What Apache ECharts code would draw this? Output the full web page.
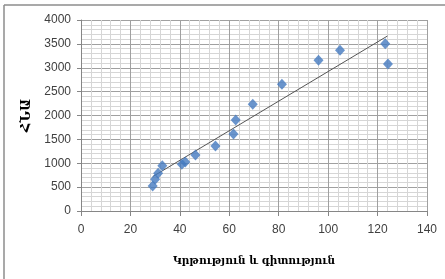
<!DOCTYPE html>
<html>
<head>
<meta charset="utf-8">
<script src="https://cdn.jsdelivr.net/npm/echarts@6/dist/echarts.min.js"></script>
<style>
  html, body {margin: 0; padding: 0; background: #fff;}
  #main {width: 445px; height: 279px;}
</style>
</head>
<body>
<div id="main"></div>
<script>
// values
let eduX = [29.0, 30.0, 31.2, 32.9, 40.8, 42.2, 46.3, 54.4, 61.7, 62.6, 69.5, 81.3, 96.1, 104.8, 123.1, 124.2];
let gdpY = [523, 663, 789, 949, 977, 1026, 1173, 1361, 1612, 1906, 2234, 2652, 3155, 3364, 3504, 3078];
let trendX = [29, 124];
let trendY = [720, 3665];
let xName = 'Կրթություն և գիտություն';
let yName = 'ՀՆԱ';

let points = [];
for (let i = 0; i < eduX.length; i++) {
  points.push([eduX[i], gdpY[i]]);
}
let trend = [];
for (let i = 0; i < trendX.length; i++) {
  trend.push([trendX[i], trendY[i]]);
}

let myChart = echarts.init(document.getElementById('main'));
let axisFont = {fontFamily: 'Liberation Sans', fontSize: 12, color: '#404040'};
let titleFont = {fontFamily: 'DejaVu Serif, DejaVu Sans', fontSize: 10.5, fontWeight: 'bold', color: '#000'};
let plain = function (value) {
  return String(value);
};

let option = {
  backgroundColor: '#fff',
  animation: false,
  grid: {left: 81, right: 18, top: 20, bottom: 68},
  graphic: [
    {type: 'line', shape: {x1: 4, y1: 5, x2: 445, y2: 5}, style: {stroke: '#8c8c8c', lineWidth: 1.5}},
    {type: 'line', shape: {x1: 4, y1: 5, x2: 4, y2: 279}, style: {stroke: '#8c8c8c', lineWidth: 1.5}}
  ],
  xAxis: {
    type: 'value',
    min: 0,
    max: 140,
    interval: 20,
    name: xName,
    nameLocation: 'middle',
    nameGap: 45,
    nameTextStyle: titleFont,
    axisLine: {show: true, lineStyle: {color: '#868686'}},
    axisTick: {show: true, length: 5, lineStyle: {color: '#868686'}},
    axisLabel: Object.assign({margin: 13, formatter: plain}, axisFont),
    splitLine: {show: true, lineStyle: {color: '#a0a0a0', width: 1}},
    minorTick: {show: false, splitNumber: 5},
    minorSplitLine: {show: true, lineStyle: {color: '#d6d6d6', width: 1}}
  },
  yAxis: {
    type: 'value',
    min: 0,
    max: 4000,
    interval: 500,
    name: yName,
    nameLocation: 'middle',
    nameGap: 46,
    nameRotate: 90,
    nameTextStyle: Object.assign({}, titleFont, {fontSize: 13}),
    axisLine: {show: true, lineStyle: {color: '#868686'}},
    axisTick: {show: true, length: 4, lineStyle: {color: '#868686'}},
    axisLabel: Object.assign({margin: 10, formatter: plain}, axisFont),
    splitLine: {show: true, lineStyle: {color: '#a0a0a0', width: 1}},
    minorTick: {show: false, splitNumber: 5},
    minorSplitLine: {show: true, lineStyle: {color: '#d6d6d6', width: 1}}
  },
  series: [
    {
      name: 'trend',
      type: 'line',
      data: trend,
      symbol: 'none',
      lineStyle: {color: '#555', width: 1},
      z: 3
    },
    {
      name: 'points',
      type: 'scatter',
      data: points,
      symbol: 'diamond',
      symbolSize: [10, 11],
      itemStyle: {color: '#4379bf'},
      z: 4
    }
  ]
};
myChart.setOption(option);
</script>
</body>
</html>
